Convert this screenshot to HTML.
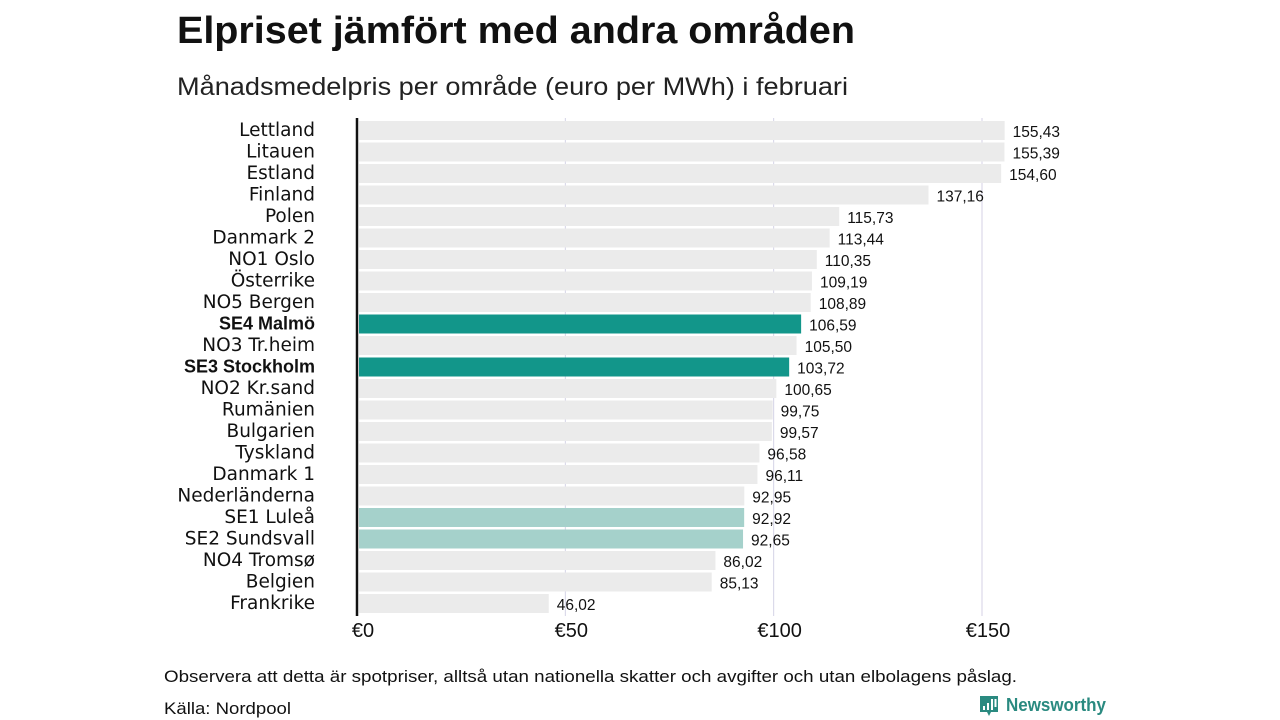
<!DOCTYPE html>
<html><head><meta charset="utf-8"><style>
body{margin:0;background:#fff;font-family:"Liberation Sans",sans-serif}
svg{display:block}
</style></head><body>
<svg id="c" width="1280" height="720" xmlns="http://www.w3.org/2000/svg">
<text x="177" y="43" font-size="38" font-weight="bold" fill="#111" textLength="678" lengthAdjust="spacingAndGlyphs">Elpriset jämfört med andra områden</text>
<text x="177" y="95" font-size="25" fill="#222" textLength="671" lengthAdjust="spacingAndGlyphs">Månadsmedelpris per område (euro per MWh) i februari</text>
<g id="grid"></g><g id="bars"></g>
<line x1="357" y1="118" x2="357" y2="616" stroke="#111" stroke-width="2.5"/>
<g id="ticks"></g>
<text x="164" y="682" font-size="17" fill="#111" textLength="853" lengthAdjust="spacingAndGlyphs">Observera att detta är spotpriser, alltså utan nationella skatter och avgifter och utan elbolagens påslag.</text>
<text x="164" y="714" font-size="17" fill="#111" textLength="127" lengthAdjust="spacingAndGlyphs">Källa: Nordpool</text>
<g>
<path d="M980 696 h18 v16 h-7 l-2 4 l-2 -4 h-7 z" fill="#2a8a80"/>
<rect x="983" y="706" width="2" height="4" fill="#fff"/><rect x="987" y="703" width="2" height="7" fill="#fff"/><rect x="991" y="699" width="2" height="11" fill="#fff"/><rect x="994.5" y="699" width="2" height="8" fill="#fff"/>
<text x="1006" y="711" font-size="18" font-weight="bold" fill="#2a8a80" textLength="100" lengthAdjust="spacingAndGlyphs">Newsworthy</text>
</g>
</svg>
<script>
const categories=["Lettland","Litauen","Estland","Finland","Polen","Danmark  2","NO1 Oslo","Österrike","NO5 Bergen","SE4 Malmö","NO3 Tr.heim","SE3 Stockholm","NO2 Kr.sand","Rumänien","Bulgarien","Tyskland","Danmark  1","Nederländerna","SE1  Luleå","SE2  Sundsvall","NO4 Tromsø","Belgien","Frankrike"];
const values=[155.43,155.39,154.60,137.16,115.73,113.44,110.35,109.19,108.89,106.59,105.50,103.72,100.65,99.75,99.57,96.58,96.11,92.95,92.92,92.65,86.02,85.13,46.02];
const highlight=["","","","","","","","","","strong","","strong","","","","","","","light","light","","",""];
const tickValues=[0,50,100,150];
const tickLabels=["€0","€50","€100","€150"];
const NS="http://www.w3.org/2000/svg";
const x=v=>357+v*(625/150);
const yTop=i=>121+i*21.5;
function mk(t,a,p){const e=document.createElementNS(NS,t);for(const k in a)e.setAttribute(k,a[k]);p.appendChild(e);return e;}
const grid=document.getElementById('grid'),bars=document.getElementById('bars'),ticks=document.getElementById('ticks');
tickValues.forEach((v,i)=>{
 if(v>0){const l=mk('line',{x1:x(v),x2:x(v),y1:118,y2:616,stroke:'#d4d2e6','stroke-width':1},grid);
 
 }
 const t=mk('text',{x:x(v)+6,y:637,'font-size':20,fill:'#111','text-anchor':'middle'},ticks);t.textContent=tickLabels[i];
 
 
});
categories.forEach((c,i)=>{
 const y=yTop(i);
 const fill=highlight[i]=='strong'?'#12968a':(highlight[i]=='light'?'#a5d1cb':'#ebebeb');
 const r=mk('rect',{x:359,y:y,width:x(values[i])-359,height:19,fill:fill},bars);
 
 
 const bold=highlight[i]=='strong';
 const lbl=mk('text',{x:315,y:y+15,'font-size':bold?18:18.5,fill:'#111','text-anchor':'end','font-weight':bold?'bold':'normal','font-family':bold?'Liberation Sans, sans-serif':'DejaVu Sans, sans-serif'},bars);
 lbl.textContent=c;
 
 
 const vl=mk('text',{x:x(values[i])+8,y:y+16,'font-size':15.5,fill:'#111'},bars);
 vl.textContent=values[i].toFixed(2).replace('.',',');
 
 
});
</script>
</body></html>
